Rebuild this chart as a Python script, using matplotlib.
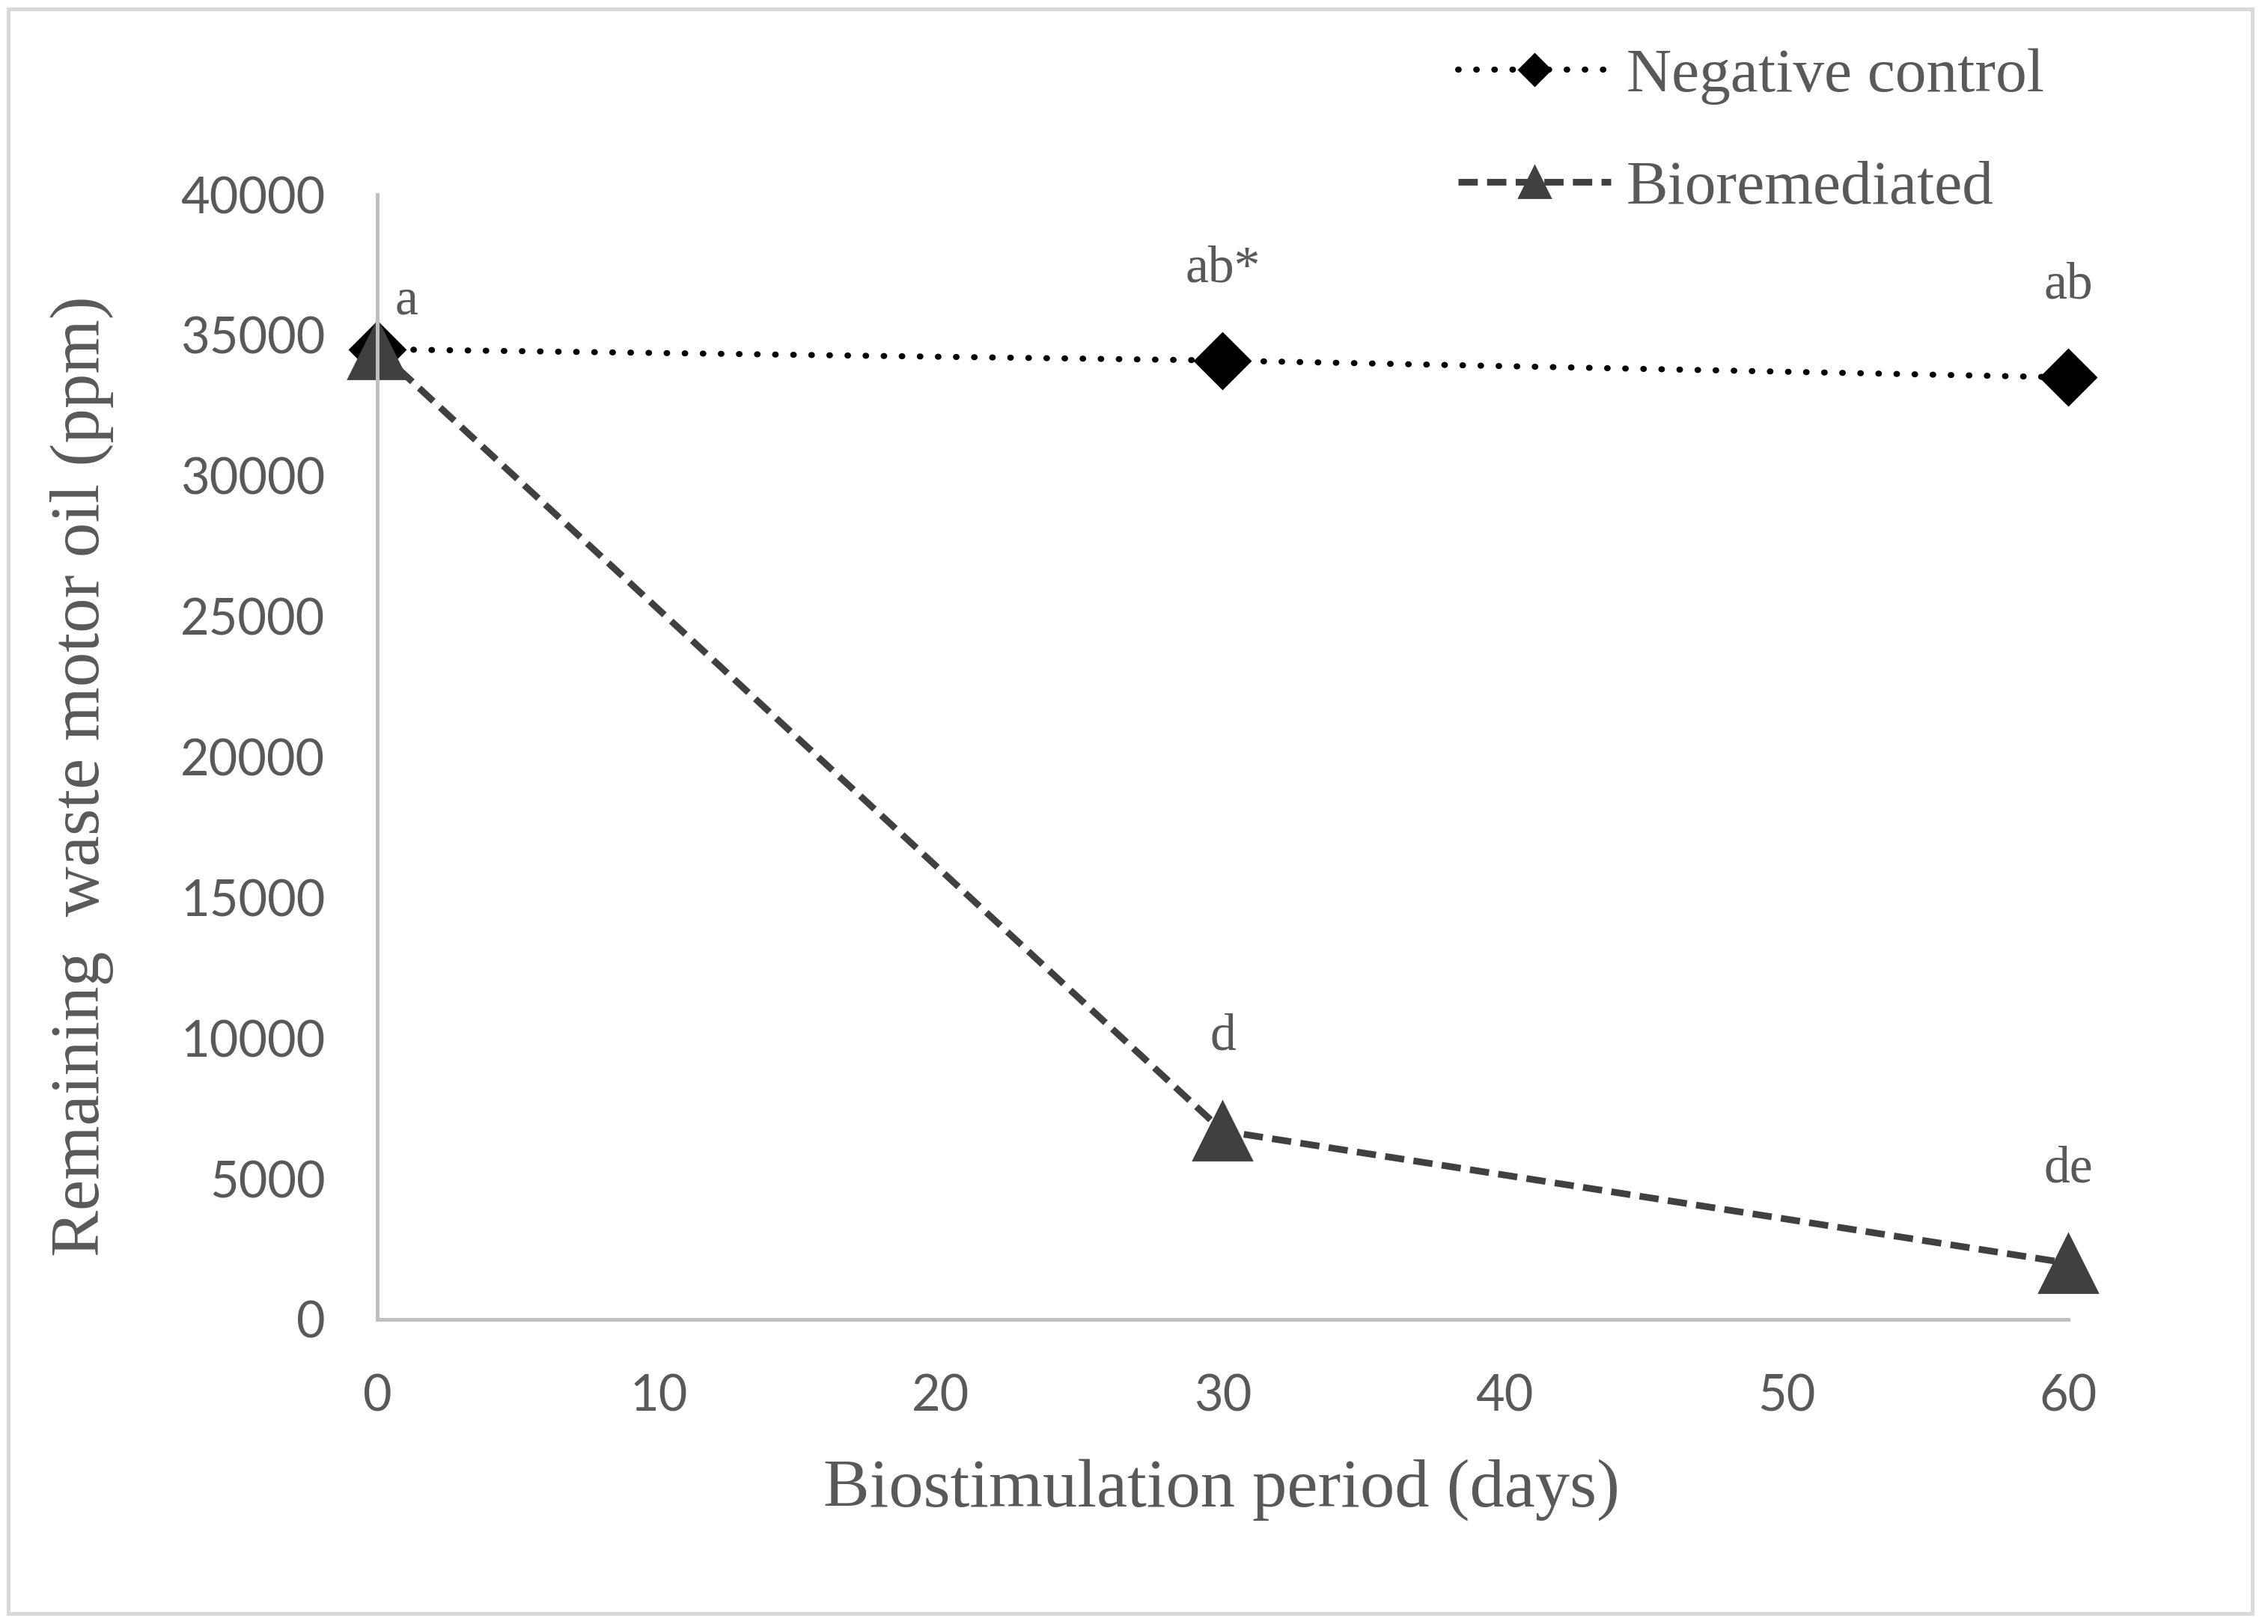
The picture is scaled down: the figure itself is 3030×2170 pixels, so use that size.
import matplotlib.pyplot as plt
from matplotlib.patches import Rectangle

# data
days = [0, 30, 60]
negative_control = [34500, 34100, 33500]
bioremediated = [34500, 6700, 2000]
nc_letters = ["", "ab*", "ab"]
bio_letters = ["a", "d", "de"]

xticks = [0, 10, 20, 30, 40, 50, 60]
yticks = [0, 5000, 10000, 15000, 20000, 25000, 30000, 35000, 40000]

grey_text = "#595959"
serif = ["Liberation Serif", "DejaVu Serif"]
sans = ["Lato", "DejaVu Sans"]

fig = plt.figure(figsize=(15.15, 10.85), dpi=200)
ax = fig.add_axes([0.1663, 0.18756, 0.7456, 0.69262])

# outer frame of the chart area
fig.patches.append(Rectangle((0.0035, 0.0065), 0.9895, 0.988, transform=fig.transFigure,
                             fill=False, edgecolor="#d9d9d9", linewidth=1.8))

ax.plot(days, negative_control, color="black", linestyle=(0, (0.1, 2.9)),
        dash_capstyle="round", linewidth=2.9, marker="D", markersize=19,
        markerfacecolor="black", markeredgecolor="black", clip_on=False,
        label="Negative control")
ax.plot(days, bioremediated, color="#404040", linestyle=(0, (2.9, 1.4)),
        linewidth=3.2, marker="^", markersize=28, markerfacecolor="#404040",
        markeredgecolor="#404040", clip_on=False, label="Bioremediated")

# significance letters
for x, y, t in zip(days, negative_control, nc_letters):
    if t:
        ax.annotate(t, (x, y), xytext=(0, 44), textcoords="offset points",
                    ha="center", va="center", fontsize=25, color=grey_text, family=serif)
for x, y, t in zip(days, bioremediated, bio_letters):
    if x == 0:
        off = (14, 23)
    else:
        off = (0, 45)
    ax.annotate(t, (x, y), xytext=off, textcoords="offset points",
                ha="center", va="center", fontsize=25, color=grey_text, family=serif)

ax.set_xlim(0, 60)
ax.set_ylim(0, 40000)
ax.set_xticks(xticks)
ax.set_yticks(yticks)
for s in ["top", "right"]:
    ax.spines[s].set_visible(False)
for s in ["left", "bottom"]:
    ax.spines[s].set_color("#bfbfbf")
    ax.spines[s].set_linewidth(1.8)
ax.tick_params(axis="both", length=0, labelsize=24, labelcolor=grey_text)
ax.tick_params(axis="y", pad=25)
ax.tick_params(axis="x", pad=26)
for lab in ax.get_xticklabels() + ax.get_yticklabels():
    lab.set_family(sans)

fig.text(0.5386, 0.0829, "Biostimulation period (days)", ha="center", va="center",
         fontsize=33.3, color=grey_text, family=serif)
fig.text(0.0363, 0.522, "Remaining  waste motor oil (ppm)", ha="center", va="center",
         rotation=90, fontsize=33.5, color=grey_text, family=serif)

leg = ax.legend(loc="upper left", bbox_to_anchor=(0.629, 0.99), bbox_transform=fig.transFigure,
                frameon=False, fontsize=30, markerscale=0.55, handlelength=2.45,
                handletextpad=0.25, labelspacing=0.89, borderpad=0)
for t in leg.get_texts():
    t.set_color(grey_text)
    t.set_family(serif)

fig.savefig("out.png", dpi=200, facecolor="white")
